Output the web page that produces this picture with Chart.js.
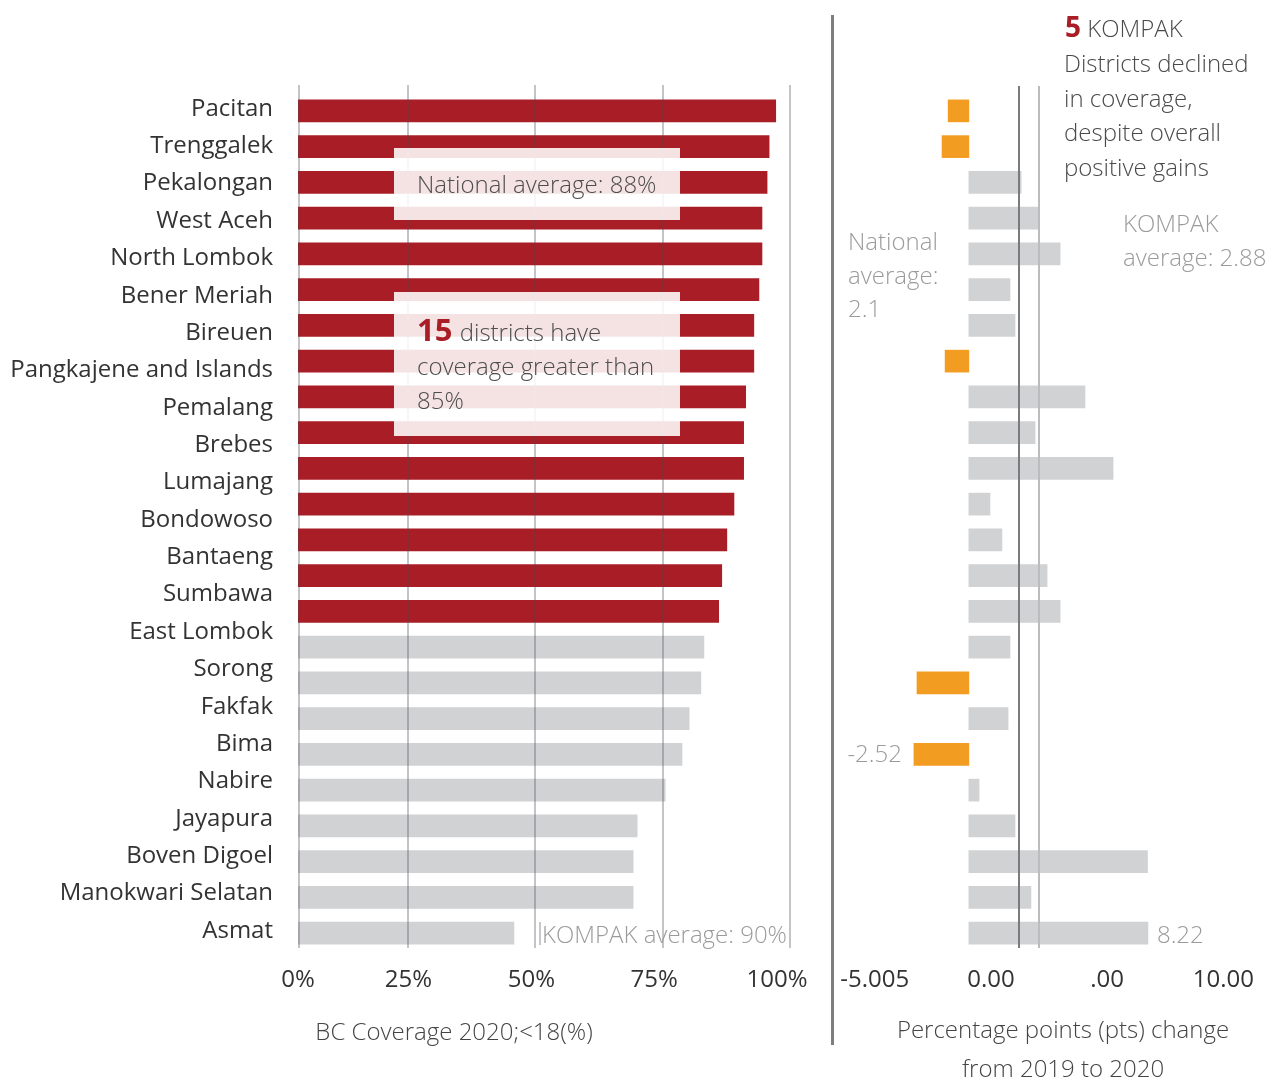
<!DOCTYPE html>
<html>
<head>
<meta charset="utf-8">
<script src="https://cdn.jsdelivr.net/npm/chart.js@4.4.1/dist/chart.umd.min.js"></script>
<style>
  html, body { margin: 0; padding: 0; background: #fff; width: 1271px; height: 1080px; overflow: hidden; }
  #wl { position: absolute; left: 0; top: 0; width: 830px; height: 1080px; }
  #wr { position: absolute; left: 800px; top: 0; width: 471px; height: 1080px; }
  #sep { position: absolute; left: 831px; top: 15px; width: 3px; height: 1030px; background: #7d7d82; }
</style>
</head>
<body>
<div id="wl"><canvas id="cl"></canvas></div>
<div id="wr"><canvas id="cr"></canvas></div>
<div id="sep"></div>
<script>
// ---------------- data ----------------
const districts = ['Pacitan', 'Trenggalek', 'Pekalongan', 'West Aceh', 'North Lombok', 'Bener Meriah',
  'Bireuen', 'Pangkajene and Islands', 'Pemalang', 'Brebes', 'Lumajang', 'Bondowoso', 'Bantaeng',
  'Sumbawa', 'East Lombok', 'Sorong', 'Fakfak', 'Bima', 'Nabire', 'Jayapura', 'Boven Digoel',
  'Manokwari Selatan', 'Asmat'];
const rows = ['r01', 'r02', 'r03', 'r04', 'r05', 'r06', 'r07', 'r08', 'r09', 'r10', 'r11', 'r12',
  'r13', 'r14', 'r15', 'r16', 'r17', 'r18', 'r19', 'r20', 'r21', 'r22', 'r23', 'r24'];
const coverage2020 = [97.2, 95.9, 95.5, 94.5, 94.5, 93.9, 92.9, 92.9, 91.3, 90.9, 90.9, 89.0,
  87.6, 86.6, 86.0, 83.1, 82.5, 80.2, 78.8, 75.5, 70.0, 69.2, 69.2, 45.8];
const changePts = [-0.95, -1.23, 2.40, 3.22, 4.19, 1.89, 2.12, -1.09, 5.33, 3.04, 6.62, 0.97,
  1.52, 3.59, 4.19, 1.89, -2.38, 1.80, -2.52, 0.47, 2.12, 8.20, 2.85, 8.22];
const coverageTickValues = [0, 25, 50, 75, 100];
const coverageTickLabels = ['0%', '25%', '50%', '75%', '100%'];
const changeTickValues = [-5, 0, 5, 10];
const changeTickLabels = ['-5.005', '0.00', '.00', '10.00'];
const avgLineValues = [2.31, 3.20];   // national, KOMPAK (as drawn)
const coverageThreshold = 85;

// ---------------- styles ----------------
const RED = '#a91e26', GRAY = '#d1d2d4', ORANGE = '#f39c22';
const FAM = '"Open Sans", sans-serif';
const FS = 24;
const LIGHT = (s) => '300 ' + s + 'px ' + FAM;
const BOLD = (s) => '700 ' + s + 'px ' + FAM;

function txt(ctx, s, x, y, font, color, align) {
  ctx.font = font; ctx.fillStyle = color; ctx.textAlign = align || 'left'; ctx.textBaseline = 'alphabetic';
  ctx.fillText(s, x, y);
  return ctx.measureText(s).width;
}

const leftDecor = {
  id: 'leftDecor',
  afterDatasetsDraw(chart) {
    const { ctx, chartArea: a, scales: { x } } = chart;
    ctx.save();
    // grid lines over bars
    ctx.strokeStyle = 'rgba(70,70,85,0.32)';
    ctx.lineWidth = 2;
    coverageTickValues.forEach(v => {
      const px = Math.round(x.getPixelForValue(v === 0 ? x.min : v)) + (v === 0 ? 1 : 0);
      ctx.beginPath(); ctx.moveTo(px, a.top - 8); ctx.lineTo(px, a.bottom - 3); ctx.stroke();
    });
    // annotation boxes
    ctx.fillStyle = 'rgba(255,255,255,0.88)';
    ctx.fillRect(394, 148, 286, 72);
    ctx.fillRect(394, 292, 286, 144);
    const dark = '#4d4d4d';
    txt(ctx, 'National average: 88%', 417, 193, LIGHT(FS), dark);
    const w15 = txt(ctx, '15', 417, 341, BOLD(31), RED);
    txt(ctx, ' districts have', 417 + w15 + 1, 341, LIGHT(FS), dark);
    txt(ctx, 'coverage greater than', 417, 375, LIGHT(FS), dark);
    txt(ctx, '85%', 417, 409, LIGHT(FS), dark);
    // KOMPAK average label
    ctx.strokeStyle = '#b5b5b8'; ctx.lineWidth = 1.5;
    ctx.beginPath(); ctx.moveTo(540, 922); ctx.lineTo(540, 945); ctx.stroke();
    txt(ctx, 'KOMPAK average: 90%', 542, 943, LIGHT(FS), '#9b9b9b');
    // axis title
    txt(ctx, 'BC Coverage 2020;<18(%)', 454, 1040, LIGHT(FS), '#444', 'center');
    ctx.restore();
  }
};

const rightDecor = {
  id: 'rightDecor',
  afterDatasetsDraw(chart) {
    const { ctx, chartArea: a, scales: { x, y } } = chart;
    ctx.save();
    const lineColors = ['#7a7a7f', '#bcbcc0'];
    avgLineValues.forEach((v, i) => {
      const px = Math.round(x.getPixelForValue(v));
      ctx.strokeStyle = lineColors[i]; ctx.lineWidth = 2;
      ctx.beginPath(); ctx.moveTo(px, a.top - 7); ctx.lineTo(px, a.bottom - 3); ctx.stroke();
    });
    const dark = '#4a4a4a', gray = '#9b9b9b';
    const w5 = txt(ctx, '5', 265, 37, BOLD(28), RED);
    txt(ctx, ' KOMPAK', 265 + w5, 37, LIGHT(FS), dark);
    txt(ctx, 'Districts declined', 264, 72, LIGHT(FS), dark);
    txt(ctx, 'in coverage,', 264, 107, LIGHT(FS), dark);
    txt(ctx, 'despite overall', 264, 141, LIGHT(FS), dark);
    txt(ctx, 'positive gains', 264, 176, LIGHT(FS), dark);
    txt(ctx, 'KOMPAK', 323, 232, LIGHT(FS), gray);
    txt(ctx, 'average: 2.88', 323, 266, LIGHT(FS), gray);
    txt(ctx, 'National', 48, 250, LIGHT(FS), gray);
    txt(ctx, 'average:', 48, 284, LIGHT(FS), gray);
    txt(ctx, '2.1', 48, 317, LIGHT(FS), gray);
    const minV = Math.min(...changePts), maxV = Math.max(...changePts);
    const iMin = changePts.indexOf(minV), iMax = changePts.lastIndexOf(maxV);
    txt(ctx, minV.toFixed(2), x.getPixelForValue(minV) - 12, y.getPixelForValue(iMin) + 8, LIGHT(FS), gray, 'right');
    txt(ctx, maxV.toFixed(2), x.getPixelForValue(maxV) + 9, y.getPixelForValue(iMax) + 10, LIGHT(FS), gray);
    txt(ctx, 'Percentage points (pts) change', 263, 1038, LIGHT(FS), '#444', 'center');
    txt(ctx, 'from 2019 to 2020', 263, 1077, LIGHT(FS), '#444', 'center');
    ctx.restore();
  }
};

function build() {
  Chart.defaults.font.family = FAM;
  new Chart(document.getElementById('cl'), {
    type: 'bar',
    data: {
      labels: rows,
      datasets: [{
        data: coverage2020,
        backgroundColor: coverage2020.map(v => v > coverageThreshold ? RED : GRAY),
        barThickness: 22, xAxisID: 'x', yAxisID: 'y'
      }]
    },
    options: {
      indexAxis: 'y', responsive: true, maintainAspectRatio: false, animation: false, events: [],
      plugins: { legend: { display: false }, tooltip: { enabled: false } },
      layout: { padding: { top: 93, right: 40, left: 0, bottom: 0 } },
      scales: {
        y: { type: 'category', display: false, offset: true },
        yl: {
          type: 'linear', position: 'left', reverse: true, offset: false, min: -0.426, max: 22.54,
          grid: { display: false, drawTicks: false, offset: false }, border: { display: false },
          afterBuildTicks: s => { s.ticks = districts.map((_, i) => ({ value: i })); },
          afterFit: s => { s.width = 298; },
          ticks: { autoSkip: false, padding: 25, color: '#333', font: { size: FS, weight: '400' },
                   callback: v => districts[v] }
        },
        x: { type: 'linear', display: false, offset: false, min: 3.4, max: 100 },
        xl: {
          type: 'linear', position: 'bottom', offset: false, min: 2.51, max: 102.65,
          grid: { display: false, drawTicks: false, offset: false }, border: { display: false },
          afterBuildTicks: s => { s.ticks = coverageTickValues.map(v => ({ value: v === 0 ? s.min : v })); },
          afterFit: s => { s.height = 129; },
          ticks: { autoSkip: false, maxRotation: 0, padding: 15, color: '#333', font: { size: FS, weight: '400' },
                   callback: (v, i) => coverageTickLabels[i] }
        }
      }
    },
    plugins: [leftDecor]
  });

  new Chart(document.getElementById('cr'), {
    type: 'bar',
    data: {
      labels: rows,
      datasets: [{
        data: changePts,
        backgroundColor: changePts.map(v => v < 0 ? ORANGE : GRAY),
        barThickness: 22, xAxisID: 'x', yAxisID: 'y'
      }]
    },
    options: {
      indexAxis: 'y', responsive: true, maintainAspectRatio: false, animation: false, events: [],
      plugins: { legend: { display: false }, tooltip: { enabled: false } },
      layout: { padding: { top: 93, right: 8, left: 49, bottom: 0 } },
      scales: {
        y: { type: 'category', display: false, offset: true },
        x: { type: 'linear', display: false, offset: false, min: -5.5, max: 13.5 },
        xl: {
          type: 'linear', position: 'bottom', offset: false, min: -6.106, max: 11.708,
          grid: { display: false, drawTicks: false, offset: false }, border: { display: false },
          afterBuildTicks: s => { s.ticks = changeTickValues.map(v => ({ value: v })); },
          afterFit: s => { s.height = 129; },
          ticks: { autoSkip: false, maxRotation: 0, padding: 15, color: '#333', font: { size: FS, weight: '400' },
                   callback: (v, i) => changeTickLabels[i] }
        }
      }
    },
    plugins: [rightDecor]
  });
}

const fl = (document.fonts && document.fonts.load)
  ? Promise.all([
      document.fonts.load('300 24px "Open Sans"'),
      document.fonts.load('400 24px "Open Sans"'),
      document.fonts.load('700 24px "Open Sans"')
    ]).catch(() => {})
  : Promise.resolve();
fl.then(build, build);
</script>
</body>
</html>
